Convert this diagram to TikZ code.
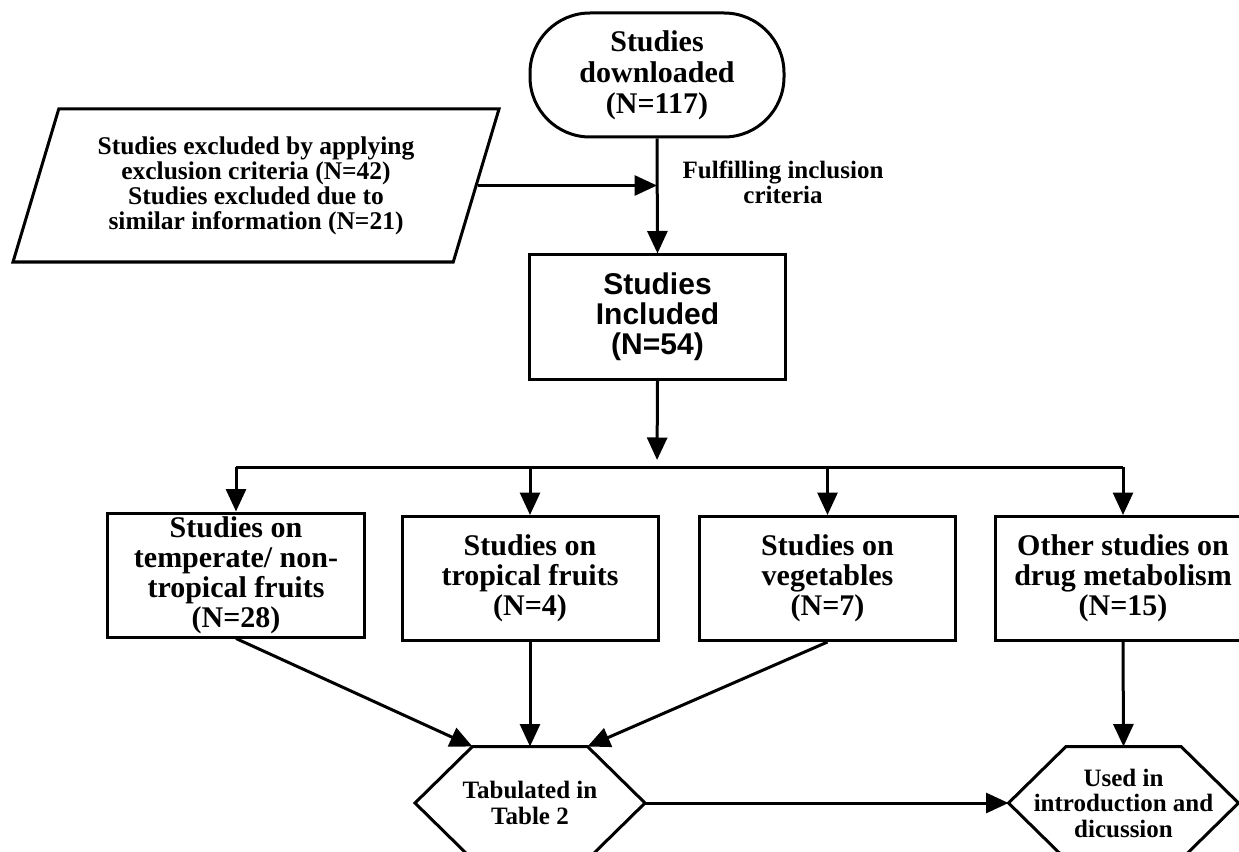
\documentclass[tikz,border=0pt]{standalone}
\usepackage{fontspec}
\setmainfont{Liberation Serif}
\newfontfamily\arialfont{Liberation Sans}
\usetikzlibrary{arrows.meta,shapes.geometric}

\begin{document}
\begin{tikzpicture}[x = 0.4pt, y = -0.4pt, line width = 1.2pt,
	every node/.style = {align = center, inner sep = 0pt},
	arr/.style = {-{Triangle[length = 9pt, width = 8pt]}},
	term/.style = {draw, rounded corners = 24pt, minimum width = 101.6pt, minimum height = 49.6pt, font = \fontsize{12}{12.4}\selectfont\bfseries},
	data/.style = {draw, trapezium, trapezium left angle = 65, trapezium right angle = 115, trapezium stretches body, minimum width = 194.4pt, minimum height = 61.2pt, font = \fontsize{10.2}{10}\selectfont\bfseries},
	box/.style = {draw, minimum width = 102.4pt, minimum height = 49.6pt, font = \fontsize{12}{12}\selectfont\bfseries},
	hexa/.style = {minimum width = 90.8pt, minimum height = 44pt, font = \fontsize{10}{10.2}\selectfont\bfseries}]
	\useasboundingbox (0, 0) rectangle (1239, 852);
%%%%%%%%%%%
	\node[term] (dl) at (657, 75) {Studies\\downloaded\\(N=117)};
	\node[data] (excl) at (256, 185.5) {Studies excluded by applying\\exclusion criteria (N=42)\\Studies excluded due to\\similar information (N=21)};
	\node[font = \fontsize{10}{10}\selectfont\bfseries] (crit) at (783, 182.5) {Fulfilling inclusion\\criteria};
	\node[box, font = \fontsize{12}{12}\selectfont\arialfont\bfseries] (inc) at (657.5, 317) {Studies\\Included\\(N=54)};
	\coordinate (split) at (657, 467);
%%%%%%%%%%%
	\node[box] (b1) at (236, 575) {Studies on\\temperate/ non-\\tropical fruits\\(N=28)};
	\node[box] (b2) at (530, 578.5) {Studies on\\tropical fruits\\(N=4)};
	\node[box] (b3) at (827.5, 578.5) {Studies on\\vegetables\\(N=7)};
	\node[box] (b4) at (1123, 578.5) {Other studies on\\drug metabolism\\(N=15)};
	\node[hexa] (tab) at (530, 803) {Tabulated in\\Table 2};
	\node[hexa] (used) at (1123.5, 803) {Used in\\introduction and\\dicussion};
	\foreach \h in {tab, used}
		\draw (\h.west) -- ([xshift = 23pt]\h.north west) -- ([xshift = -23pt]\h.north east) -- (\h.east) -- ([xshift = -23pt]\h.south east) -- ([xshift = 23pt]\h.south west) -- cycle;
%%%%%%%%%%%
	\draw[arr] (dl.south) -- (inc.north);
	\draw[arr] (excl.east) -- (excl.east -| dl.south);
	\draw[arr, shorten > = 2.8pt] (inc.south) -- (split);
	\draw (b1.north |- split) -- (b4.north |- split);
	\foreach \b in {b1, b2, b3, b4}
		\draw[arr] (\b.north |- split) -- (\b.north);
	\draw[arr] (b1.south) -- ([xshift = 23pt]tab.north west);
	\draw[arr] (b2.south) -- (tab.north);
	\draw[arr] (b3.south) -- ([xshift = -23pt]tab.north east);
	\draw[arr] (b4.south) -- (used.north);
	\draw[arr] (tab.east) -- (used.west);
\end{tikzpicture}
\end{document}
